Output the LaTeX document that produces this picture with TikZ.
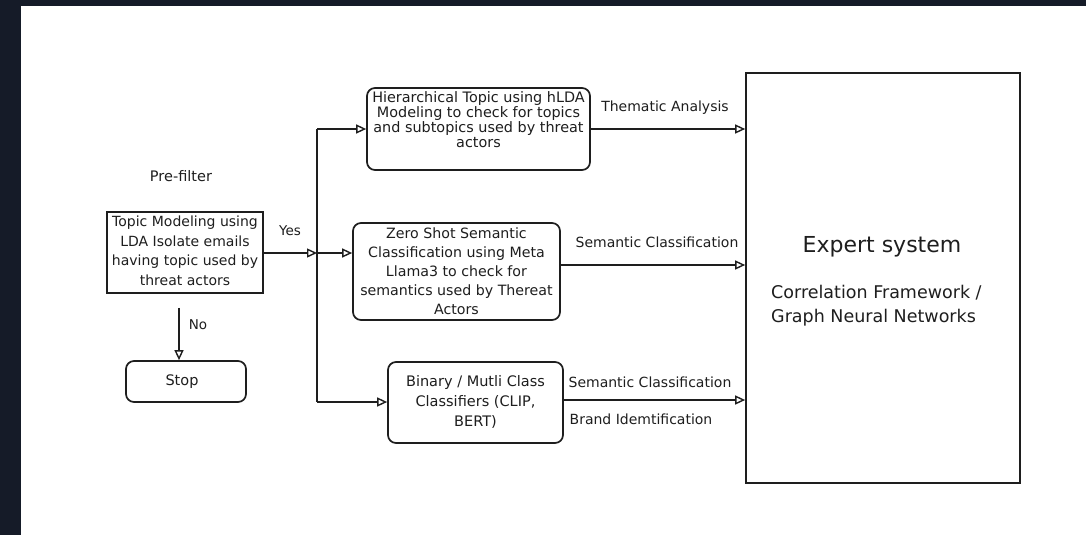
\documentclass[tikz,border=0pt]{standalone}
\usepackage{fontspec}
\setmainfont{DejaVu Sans}
\usetikzlibrary{arrows.meta,calc}
\definecolor{frame}{RGB}{21,27,40}
\definecolor{ink}{RGB}{30,30,30}
\begin{document}
\begin{tikzpicture}[x=1pt,y=-1pt,
  shape box/.style={draw=ink, line width=1.7pt, fill=white, inner sep=0pt},
  sqbox/.style={shape box, rectangle},
  rbox/.style={shape box, rectangle, rounded corners=8pt},
  txt/.style={text=ink, align=center, inner sep=0pt, font=\fontsize{14}{19}\selectfont},
  lbl/.style={text=ink, inner sep=0pt, font=\fontsize{14}{17}\selectfont},
  wire/.style={draw=ink, line width=1.6pt},
  arr/.style={wire, -{Triangle[open, length=10pt, width=9pt, line width=1.4pt]}}
]
% page frame
\fill[frame] (0,0) rectangle (1086,535);
\fill[white] (21,6) rectangle (1086,535);
\useasboundingbox (0,0) rectangle (1086,535);

% pre-filter stage
\node[lbl, font=\fontsize{14.5}{17}\selectfont] (prefilter) at (181,176) {Pre-filter};
\node[sqbox, minimum width=156pt, minimum height=81pt] (topic) at (185,252.5) {};
\node[txt, font=\fontsize{14}{19.5}\selectfont] (topicTxt) at (185,251)
  {Topic Modeling using\\LDA Isolate emails\\having topic used by\\threat actors};
\node[rbox, minimum width=120pt, minimum height=41pt] (stop) at (186,381.5) {};
\node[lbl, font=\fontsize{14.5}{17}\selectfont] (stopTxt) at (182,382) {Stop};

% analysis stages
\node[rbox, minimum width=223pt, minimum height=82pt] (box1) at (478.5,129) {};
\node[txt, font=\fontsize{14.4}{15}\selectfont] (box1Txt) at (478.5,119.5)
  {Hierarchical Topic using hLDA\\Modeling to check for topics\\and subtopics used by threat\\actors};
\node[rbox, minimum width=207pt, minimum height=97pt] (box2) at (456.5,271.5) {};
\node[txt, font=\fontsize{14.2}{19}\selectfont] (box2Txt) at (456.5,271)
  {Zero Shot Semantic\\Classification using Meta\\Llama3 to check for\\semantics used by Thereat\\Actors};
\node[rbox, minimum width=175pt, minimum height=81pt] (box3) at (475.5,402.5) {};
\node[txt, font=\fontsize{14.5}{20}\selectfont] (box3Txt) at (475.5,402)
  {Binary / Mutli Class\\Classifiers (CLIP,\\BERT)};

% expert system
\node[sqbox, minimum width=274pt, minimum height=410pt] (expert) at (883,278) {};
\node[txt, font=\fontsize{22}{26}\selectfont] (expertTxt) at (882,247) {Expert system};
\node[txt, align=left, anchor=west, font=\fontsize{17.5}{24}\selectfont] (expertSub) at (771,306)
  {Correlation Framework /\\Graph Neural Networks};

% distribution bus
\coordinate (busTop) at (317,129);
\coordinate (busMid) at (317,253);
\coordinate (busBot) at (317,402);
\coordinate (noX) at (179,0);
\draw[wire] (busTop) -- (busBot);
\draw[arr] (topic.east |- busMid) -- (busMid);
\draw[arr] (busTop) -- (busTop -| box1.west);
\draw[arr] (busMid) -- (busMid -| box2.west);
\draw[arr] (busBot) -- (busBot -| box3.west);
\draw[arr] ($(topic.south -| noX)+(0,14)$) -- (stop.north -| noX);

% outputs into the expert system
\draw[arr] (box1.east) -- (box1.east -| expert.west);
\draw[arr] ($(box2.east)+(0,-6.5)$) coordinate (o2) -- (o2 -| expert.west);
\draw[arr] ($(box3.east)+(0,-2.5)$) coordinate (o3) -- (o3 -| expert.west);

% connector labels
\node[lbl, font=\fontsize{13.5}{16}\selectfont] (yes) at (290,231) {Yes};
\node[lbl, font=\fontsize{13.5}{16}\selectfont] (no) at (198,325) {No};
\node[lbl] (lblThem) at (665,108) {Thematic Analysis};
\node[lbl] (lblSem2) at (657,242) {Semantic Classification};
\node[lbl] (lblSem3) at (650,382) {Semantic Classification};
\node[lbl] (lblBrand) at (641,419) {Brand Idemtification};
\end{tikzpicture}
\end{document}
